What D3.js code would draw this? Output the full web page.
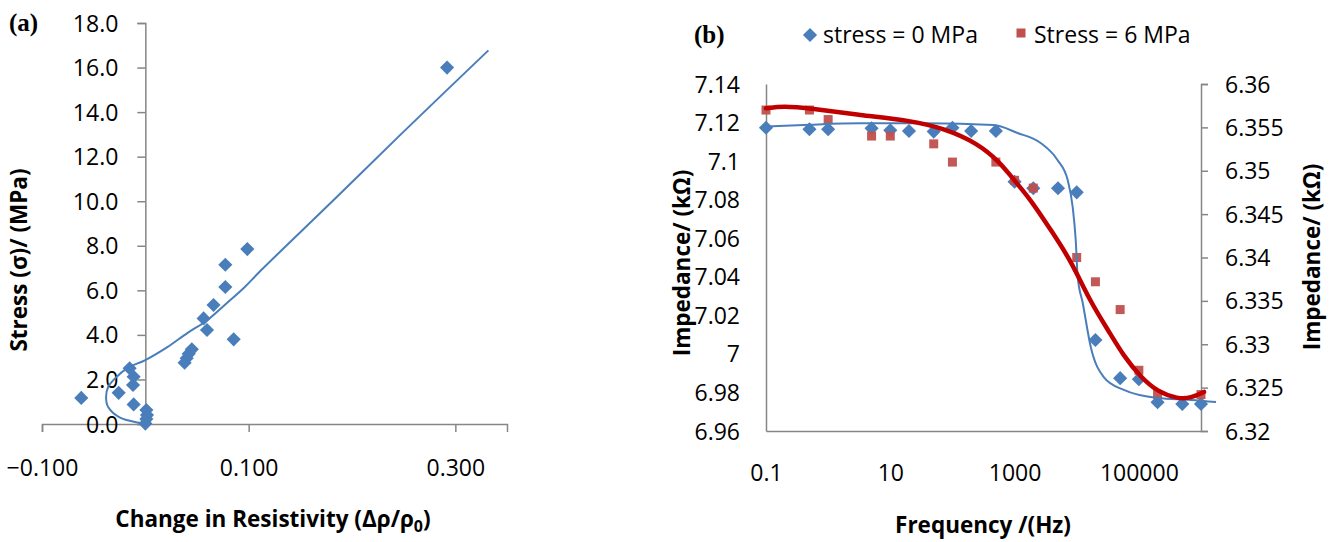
<!DOCTYPE html>
<html lang="en">
<head>
<meta charset="utf-8">
<script src="https://d3js.org/d3.v7.min.js"></script>
<style>
  body { margin: 0; background: #fff; }
  text { font-family: "Open Sans", sans-serif; fill: #000; }
</style>
</head>
<body>
<script type="text/javascript">

// ---- panel (a) data: change in resistivity vs stress
var aStrain = [0.292, 0.0987, 0.0774, 0.0774, 0.066, 0.0564, 0.0597, 0.0855, 0.045, 0.042, 0.040, 0.038,
               -0.0152, -0.0113, -0.0119, -0.0258, -0.062, -0.0113, 0.001, 0.0016, 0.001, 0.0];
var aStress = [16.0, 7.85, 7.15, 6.15, 5.34, 4.74, 4.22, 3.80, 3.35, 3.15, 2.95, 2.75,
               2.50, 2.12, 1.75, 1.40, 1.17, 0.88, 0.63, 0.40, 0.22, 0.02];
// trend line
var aFitStrain = [0, -0.0048, -0.024, -0.036, -0.038, -0.036, -0.029, -0.0174, 0, 0.0213, 0.0406, 0.060, 0.079, 0.096, 0.112, 0.182, 0.245, 0.332];
var aFitStress = [0, 0.045, 0.27, 0.76, 1.21, 1.66, 2.06, 2.51, 2.87, 3.45, 4.08, 4.66, 5.43, 6.14, 6.9, 10.04, 12.9, 16.77];
var aXTicks = [-0.1, 0.1, 0.3];
var aYTicks = [0, 2, 4, 6, 8, 10, 12, 14, 16, 18];

// ---- panel (b) data: impedance vs frequency
var freq0 = [0.1, 0.5, 1, 5, 10, 20, 50, 100, 200, 500, 1000, 2000, 5000, 10000, 20000, 50000, 100000, 200000, 500000, 1000000];
var imp0  = [7.1173, 7.1165, 7.1165, 7.117, 7.116, 7.1156, 7.1153, 7.1173, 7.1156, 7.1156, 7.0893, 7.0859, 7.0859, 7.0838,
             7.0072, 6.9874, 6.9869, 6.9749, 6.974, 6.974];
var freq6 = [0.1, 0.5, 1, 5, 10, 50, 100, 500, 1000, 2000, 10000, 20000, 50000, 100000, 200000, 1000000];
var imp6  = [6.357, 6.357, 6.3559, 6.354, 6.354, 6.3531, 6.351, 6.351, 6.3489, 6.348, 6.340, 6.3372, 6.334, 6.327, 6.3242, 6.3242];

var fit0Freq = [0.1, 0.51, 3.3, 39.5, 458, 1117, 2630, 4900, 7160, 8610, 9640, 10370, 12500, 16830, 27230, 57280, 202300, 690200, 1746000];
var fit0Imp  = [7.1179, 7.1189, 7.1196, 7.1196, 7.1187, 7.1146, 7.1094, 7.1006, 7.0902, 7.0762, 7.0591, 7.0399, 7.0264, 7.0036,
                6.988, 6.9813, 6.9771, 6.9761, 6.975];
var fit6Freq = [0.1, 0.19, 0.51, 3.3, 21, 71.6, 253, 594, 861, 1811, 3800, 8000, 16830, 31620, 57280, 107700, 202300, 425600, 690200, 1117000];
var fit6Imp  = [6.3572, 6.35747, 6.3572, 6.3564, 6.3558, 6.3549, 6.3532, 6.3509, 6.3494, 6.3467, 6.3432, 6.3397, 6.3348, 6.3317,
                6.3286, 6.3262, 6.3245, 6.3237, 6.3238, 6.3245];

var bXTicks = [0.1, 10, 1000, 100000];
var bYLeft  = [6.96, 6.98, 7.0, 7.02, 7.04, 7.06, 7.08, 7.1, 7.12, 7.14];
var bYRight = [6.32, 6.325, 6.33, 6.335, 6.34, 6.345, 6.35, 6.355, 6.36];

var blue = "#4a7ebb", markRed = "#c0504d", lineRed = "#c00000", axisGrey = "#868686";

var svg = d3.select("body")
  .append("svg")
  .attr("width", 1333)
  .attr("height", 542);

// square diamond like Excel's marker
var diamond = {
  draw: function (ctx, size) {
    var r = Math.sqrt(size) / 2;
    ctx.moveTo(0, -r); ctx.lineTo(r, 0); ctx.lineTo(0, r); ctx.lineTo(-r, 0); ctx.closePath();
  }
};

// ================= panel (a) =================
var ax = d3.scaleLinear().domain([-0.1, 0.35]).range([42, 507]);
var ay = d3.scaleLinear().domain([0, 18]).range([424, 23]);

var ga = svg.append("g");

ga.append("g")
  .attr("transform", "translate(0," + ay(0) + ")")
  .call(d3.axisBottom(ax).tickValues(aXTicks).tickSize(8).tickFormat(d3.format(".3f")))
  .call(function (g) {
    g.select(".domain").attr("stroke", axisGrey).attr("stroke-width", 1.5);
    g.selectAll(".tick line").attr("stroke", axisGrey).attr("stroke-width", 1.5);
    g.selectAll(".tick text").attr("font-size", 23).attr("dy", 0).attr("y", 52).attr("font-family", "Open Sans");
  });

ga.append("g")
  .attr("transform", "translate(" + ax(0) + ",0)")
  .call(d3.axisLeft(ay).tickValues(aYTicks).tickSize(8).tickPadding(19).tickFormat(d3.format(".1f")))
  .call(function (g) {
    g.select(".domain").attr("stroke", axisGrey).attr("stroke-width", 1.5);
    g.selectAll(".tick line").attr("stroke", axisGrey).attr("stroke-width", 1.5);
    g.selectAll(".tick text").attr("font-size", 23).attr("dy", "0.35em").attr("font-family", "Open Sans");
  });

var aPts = aStrain.map(function (d, i) { return [d, aStress[i]]; });
ga.selectAll("path.pt")
  .data(aPts)
  .enter()
  .append("path")
  .attr("class", "pt")
  .attr("d", d3.symbol().type(diamond).size(200))
  .attr("fill", blue)
  .attr("transform", function (d) { return "translate(" + ax(d[0]) + "," + ay(d[1]) + ")"; });

var aFit = aFitStrain.map(function (d, i) { return [d, aFitStress[i]]; });
ga.append("path")
  .datum(aFit)
  .attr("fill", "none")
  .attr("stroke", blue)
  .attr("stroke-width", 2)
  .attr("d", d3.line().x(function (d) { return ax(d[0]); }).y(function (d) { return ay(d[1]); }).curve(d3.curveCatmullRom.alpha(0.5)));

ga.append("text").attr("x", 9).attr("y", 31)
  .attr("font-weight", "bold").attr("font-size", 25)
  .style("font-family", "Liberation Serif")
  .text("(a)");

var xt = ga.append("text").attr("x", 273).attr("y", 527)
  .attr("text-anchor", "middle").attr("font-weight", "bold").attr("font-size", 22.5)
  .text("Change in Resistivity (Δρ/ρ");
xt.append("tspan").attr("font-size", 16).attr("dy", 5).text("0");
xt.append("tspan").attr("dy", -5).text(")");

ga.append("text")
  .attr("transform", "translate(18,260) rotate(-90)")
  .attr("text-anchor", "middle").attr("dominant-baseline", "central")
  .attr("font-weight", "bold").attr("font-size", 22.5)
  .text("Stress (σ)/ (MPa)");

// ================= panel (b) =================
var bx = d3.scaleLog().domain([0.1, 1e6]).range([766, 1201]);
var byL = d3.scaleLinear().domain([6.96, 7.14]).range([431, 84]);
var byR = d3.scaleLinear().domain([6.32, 6.36]).range([431, 84]);

var gb = svg.append("g");

gb.append("g")
  .attr("transform", "translate(0," + byL(6.96) + ")")
  .call(d3.axisBottom(bx).tickValues(bXTicks).tickSize(0).tickFormat(function (d) { return String(d); }))
  .call(function (g) {
    g.select(".domain").attr("stroke", axisGrey).attr("stroke-width", 1.5);
    g.selectAll(".tick text").attr("font-size", 23).attr("dy", 0).attr("y", 50).attr("font-family", "Open Sans");
  });

gb.append("g")
  .attr("transform", "translate(" + bx(0.1) + ",0)")
  .call(d3.axisLeft(byL).tickValues(bYLeft).tickSize(0).tickPadding(26).tickFormat(function (d) { return String(+d.toFixed(2)); }))
  .call(function (g) {
    g.select(".domain").attr("stroke", axisGrey).attr("stroke-width", 1.5);
    g.selectAll(".tick text").attr("font-size", 23).attr("dy", "0.35em").attr("font-family", "Open Sans");
  });

gb.append("g")
  .attr("transform", "translate(" + bx(1e6) + ",0)")
  .call(d3.axisRight(byR).tickValues(bYRight).tickSize(7).tickPadding(17).tickFormat(function (d) { return String(+d.toFixed(3)); }))
  .call(function (g) {
    g.select(".domain").attr("stroke", axisGrey).attr("stroke-width", 1.5);
    g.selectAll(".tick line").attr("stroke", axisGrey).attr("stroke-width", 1.5);
    g.selectAll(".tick text").attr("font-size", 23).attr("dy", "0.35em").attr("font-family", "Open Sans");
  });

var pts0 = freq0.map(function (d, i) { return [d, imp0[i]]; });
var pts6 = freq6.map(function (d, i) { return [d, imp6[i]]; });

gb.selectAll("path.d0")
  .data(pts0)
  .enter()
  .append("path")
  .attr("class", "d0")
  .attr("d", d3.symbol().type(diamond).size(200))
  .attr("fill", blue)
  .attr("transform", function (d) { return "translate(" + bx(d[0]) + "," + byL(d[1]) + ")"; });

gb.selectAll("rect.d6")
  .data(pts6)
  .enter()
  .append("rect")
  .attr("class", "d6")
  .attr("width", 9).attr("height", 9)
  .attr("x", function (d) { return bx(d[0]) - 4.5; })
  .attr("y", function (d) { return byR(d[1]) - 4.5; })
  .attr("fill", markRed)
  .attr("opacity", 0.95);

var fit0 = fit0Freq.map(function (d, i) { return [d, fit0Imp[i]]; });
var fit6 = fit6Freq.map(function (d, i) { return [d, fit6Imp[i]]; });

gb.append("path")
  .datum(fit0)
  .attr("fill", "none")
  .attr("stroke", blue)
  .attr("stroke-width", 2)
  .attr("d", d3.line().x(function (d) { return bx(d[0]); }).y(function (d) { return byL(d[1]); }).curve(d3.curveMonotoneX));

gb.append("path")
  .datum(fit6)
  .attr("fill", "none")
  .attr("stroke", lineRed)
  .attr("stroke-width", 4.5)
  .attr("stroke-linecap", "round")
  .attr("d", d3.line().x(function (d) { return bx(d[0]); }).y(function (d) { return byR(d[1]); }).curve(d3.curveBasis));

gb.append("text").attr("x", 694).attr("y", 43)
  .attr("font-weight", "bold").attr("font-size", 25)
  .style("font-family", "Liberation Serif")
  .text("(b)");

// legend
gb.append("path")
  .attr("d", d3.symbol().type(diamond).size(200))
  .attr("fill", blue)
  .attr("transform", "translate(810,35)");
gb.append("text").attr("x", 823).attr("y", 43).attr("font-size", 23).text("stress = 0 MPa");
gb.append("rect").attr("x", 1016.5).attr("y", 28.5).attr("width", 9).attr("height", 9).attr("fill", markRed);
gb.append("text").attr("x", 1034).attr("y", 43).attr("font-size", 23).text("Stress = 6 MPa");

gb.append("text").attr("x", 983).attr("y", 533)
  .attr("text-anchor", "middle").attr("font-weight", "bold").attr("font-size", 22.5)
  .text("Frequency /(Hz)");

gb.append("text")
  .attr("transform", "translate(681,263) rotate(-90)")
  .attr("text-anchor", "middle").attr("dominant-baseline", "central")
  .attr("font-weight", "bold").attr("font-size", 22.5)
  .text("Impedance/ (kΩ)");

gb.append("text")
  .attr("transform", "translate(1311,257) rotate(-90)")
  .attr("text-anchor", "middle").attr("dominant-baseline", "central")
  .attr("font-weight", "bold").attr("font-size", 22.5)
  .text("Impedance/ (kΩ)");

</script>
</body>
</html>
